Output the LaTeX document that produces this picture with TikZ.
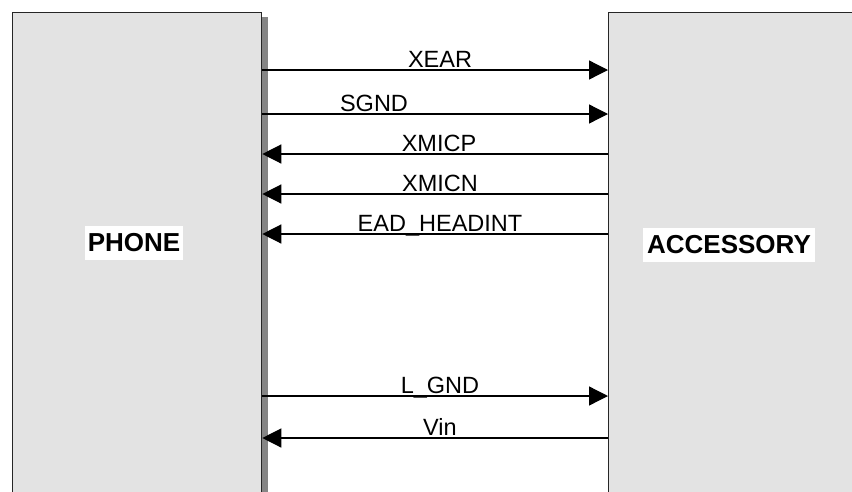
\documentclass[tikz,border=0pt]{standalone}
\usepackage{fontspec}
\setmainfont{Liberation Sans}
\usetikzlibrary{arrows.meta,positioning}
\definecolor{boxgray}{HTML}{E3E3E3}
\definecolor{shadowgray}{HTML}{858585}

\begin{document}
\begin{tikzpicture}[x=1pt,y=-1pt,
  unit/.style={draw=black!85, line width=1.3pt, fill=boxgray, anchor=north west, inner sep=0pt, minimum height=490pt},
  unitname/.style={fill=white, font=\bfseries\fontsize{26}{26}\selectfont, inner sep=0pt, minimum height=34pt},
  sig/.style={line width=1.3pt, -{Triangle[length=19pt,width=19pt]}},
  siglabel/.style={font=\fontsize{23.5}{24}\selectfont, anchor=base, inner sep=0pt}
]
\useasboundingbox (0,0) rectangle (852,491);
\clip (0,0) rectangle (852,491);
\node[unit, minimum width=249pt] (phone) at (12,12) {};
\node[unit, minimum width=260pt] (acc) at (608,12) {};
\fill[shadowgray] ([yshift=-5pt]phone.north east) rectangle ([xshift=6pt]phone.south east);
\node[unitname, minimum width=98pt] (phonename) at (134,243) {PHONE};
\node[unitname, minimum width=172pt] (accname) at (729,245) {ACCESSORY};
\foreach \y/\lx/\sig in {70/440/XEAR, 114/374/SGND, 396/440/L\_GND}{
  \draw[sig] (phone.east |- 0,\y) -- (acc.west |- 0,\y);
  \node[siglabel] at (\lx,\y-2.5) {\sig};
}
\foreach \y/\lx/\sig in {154/439/XMICP, 194/440/XMICN, 234/440/EAD\_HEADINT, 438/440/Vin}{
  \draw[sig] (acc.west |- 0,\y) -- (phone.east |- 0,\y);
  \node[siglabel] at (\lx,\y-2.5) {\sig};
}
\end{tikzpicture}
\end{document}
